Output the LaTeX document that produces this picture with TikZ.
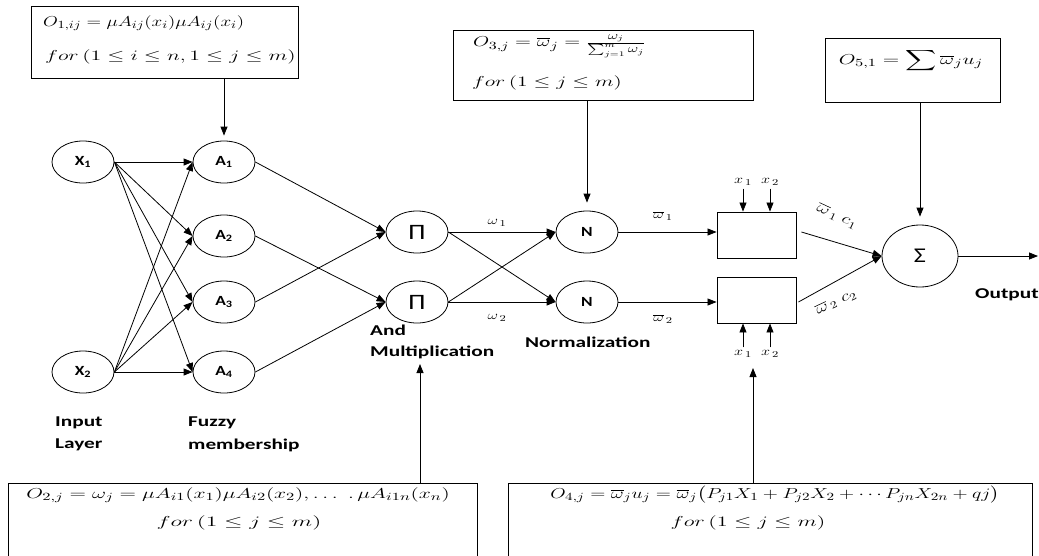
\documentclass[tikz,border=0pt]{standalone}
\usepackage{fontspec}
\usepackage{amsmath}
\usepackage{graphicx}
\usetikzlibrary{arrows.meta,shapes.geometric}
\newfontfamily\lab[FakeStretch=1.42]{Carlito}
\newfontfamily\nlab[FakeStretch=1.25]{Carlito}
\newcommand{\sx}[2][1.6]{\scalebox{#1}[1]{#2}}
\begin{document}
\begin{tikzpicture}[x=1pt,y=-1pt,
 neuron/.style={draw,ellipse,minimum width=62pt,minimum height=42pt,inner sep=0pt,line width=0.8pt,font=\nlab\bfseries\fontsize{14}{16}\selectfont},
 ebox/.style={draw,line width=1pt,inner sep=0pt},
 rbox/.style={draw,line width=0.9pt,minimum width=79pt,minimum height=46pt,inner sep=0pt},
 arr/.style={-{Triangle[length=9pt,width=7pt]},line width=0.8pt},
 lbl/.style={font=\lab\bfseries\fontsize{15}{17}\selectfont,anchor=west,inner sep=0pt},
 mth/.style={font=\fontsize{15}{17}\selectfont,inner sep=0pt},
 sml/.style={font=\fontsize{12.5}{14}\selectfont,inner sep=0pt},
]
\useasboundingbox (0,0) rectangle (1039,555);
% neurons
\node[neuron] (X1) at (83,162) {X\textsubscript{1}};
\node[neuron] (X2) at (83,372) {X\textsubscript{2}};
\node[neuron] (A1) at (224,162) {A\textsubscript{1}};
\node[neuron] (A2) at (224,236) {A\textsubscript{2}};
\node[neuron] (A3) at (224,302) {A\textsubscript{3}};
\node[neuron] (A4) at (224,372) {A\textsubscript{4}};
\node[neuron] (P1) at (417,232) {\fontsize{22}{22}\selectfont\mdseries Π};
\node[neuron] (P2) at (417,302) {\fontsize{22}{22}\selectfont\mdseries Π};
\node[neuron] (N1) at (587,232) {N};
\node[neuron] (N2) at (587,302) {N};
\node[rbox] (R1) at (756.5,235) {};
\node[rbox] (R2) at (756.5,300) {};
\node[neuron,minimum width=76pt,minimum height=62pt] (S) at (920,256) {\fontsize{21}{21}\selectfont\mdseries Σ};
\coordinate (out) at (1038,256);
% edges
\foreach \a in {A1,A2,A3,A4}{
  \draw[arr] (X1.east) -- (\a.west);
  \draw[arr] (X2.east) -- (\a.west);
}
\draw[arr] (A1.east) -- (P1.west);
\draw[arr] (A3.east) -- (P1.west);
\draw[arr] (A2.east) -- (P2.west);
\draw[arr] (A4.east) -- (P2.west);
\draw[arr] (P1.east) -- (N1.west);
\draw[arr] (P1.east) -- (N2.west);
\draw[arr] (P2.east) -- (N1.west);
\draw[arr] (P2.east) -- (N2.west);
\draw[arr] (N1.east) -- (N1.east -| R1.west);
\draw[arr] (N2.east) -- (N2.east -| R2.west);
\draw[arr] ([xshift=5pt,yshift=3pt]R1.east) -- (S.west);
\draw[arr] ([xshift=2pt,yshift=-2pt]R2.east) -- (S.west);
\draw[arr] (S.east) -- (out);
% edge labels
\node[sml] (w1) at (497,223) {\sx[1.35]{$\omega_{\,1}$}};
\node[sml] (w2) at (497,318) {\sx[1.35]{$\omega_{\,2}$}};
\node[sml] (wb1) at (663,216) {\sx[1.35]{$\overline{\omega}_{\,1}$}};
\node[sml] (wb2) at (663,319) {\sx[1.35]{$\overline{\omega}_{\,2}$}};
\node[font=\fontsize{14}{15}\selectfont,inner sep=0pt,rotate=-25] (c1) at (837,216) {\sx[1.35]{$\overline{\omega}_{\,1}\;c_{1}$}};
\node[font=\fontsize{14}{15}\selectfont,inner sep=0pt,rotate=25] (c2) at (836,302) {\sx[1.35]{$\overline{\omega}_{\,2}\;c_{2}$}};
% x inputs
\node[sml] (xa1) at (743,182) {\sx[1.35]{$x_{\,1}$}};
\node[sml] (xa2) at (770,182) {\sx[1.35]{$x_{\,2}$}};
\node[sml] (xb1) at (743,354) {\sx[1.35]{$x_{\,1}$}};
\node[sml] (xb2) at (770,354) {\sx[1.35]{$x_{\,2}$}};
\draw[arr] ([yshift=-3pt]xa1.south) -- (xa1.south |- R1.north);
\draw[arr] ([yshift=-3pt]xa2.south) -- (xa2.south |- R1.north);
\draw[arr] ([yshift=3pt]xb1.north) -- (xb1.north |- R2.south);
\draw[arr] ([yshift=3pt]xb2.north) -- (xb2.north |- R2.south);
% layer labels
\node[lbl] (in1) at (55,423) {Input};
\node[lbl] (in2) at (55,445) {Layer};
\node[lbl] (fz1) at (188,423) {Fuzzy};
\node[lbl] (fz2) at (188,445) {membership};
\node[lbl] (and1) at (370,330) {And};
\node[lbl] (and2) at (370,352) {Multiplication};
\node[lbl] (nrm) at (525,342) {Normalization};
\node[lbl] (outl) at (975,295) {Output};
% formula boxes
\node[ebox,minimum width=267pt,minimum height=72pt] (B1) at (164.5,42) {};
\node[mth,anchor=west] (t11) at (43,23) {\sx[1.33]{$O_{1,ij} = \mu A_{ij}(x_i)\mu A_{ij}(x_i)$}};
\node[mth,anchor=west] (t12) at (45,57) {\sx[1.52]{$for\,(1 \le i \le n, 1 \le j \le m)$}};
\node[ebox,minimum width=300pt,minimum height=70pt] (B3) at (603,65) {};
\node[mth,anchor=west] (t31) at (473,46) {\sx[1.45]{$O_{3,j} = \overline{\omega}_j = \frac{\omega_j}{\sum_{j=1}^{m}\omega_j}$}};
\node[mth,anchor=west] (t32) at (472,83) {\sx[1.5]{$for\,(1 \le j \le m)$}};
\node[ebox,minimum width=175pt,minimum height=64pt] (B5) at (912.5,70) {};
\node[mth] (t51) at (911,61) {\sx[1.5]{$O_{5,1} = \displaystyle\sum \overline{\omega}_j u_j$}};
\node[ebox,minimum width=469pt,minimum height=77pt] (B2) at (242.5,521.5) {};
\node[mth] (t21) at (238,495) {\sx[1.5]{$O_{2,j} = \omega_j = \mu A_{i1}(x_1)\mu A_{i2}(x_2), \ldots\ .\,\mu A_{i1n}(x_n)$}};
\node[mth] (t22) at (239,523) {\sx[1.65]{$for\,(1 \le j \le m)$}};
\node[ebox,minimum width=524pt,minimum height=77pt] (B4) at (770,521.5) {};
\node[mth] (t41) at (775,495) {\sx[1.38]{$O_{4,j} = \overline{\omega}_j u_j = \overline{\omega}_j\bigl(P_{j1}X_1 + P_{j2}X_2 + \cdots P_{jn}X_{2n} + qj\bigr)$}};
\node[mth] (t42) at (748,523) {\sx[1.55]{$for\,(1 \le j \le m)$}};
% arrows from boxes
\coordinate (mtip) at (420,364);
\coordinate (ctip) at (753,368);
\draw[arr] (B1.south -| A1.north) -- ([yshift=5pt]A1.north);
\draw[arr] (B3.south -| N1.north) -- ([yshift=8pt]N1.north);
\draw[arr] (B5.south -| S.north) -- ([yshift=8pt]S.north);
\draw[arr] (mtip |- B2.north) -- (mtip);
\draw[arr] (ctip |- B4.north) -- (ctip);
\end{tikzpicture}
\end{document}
